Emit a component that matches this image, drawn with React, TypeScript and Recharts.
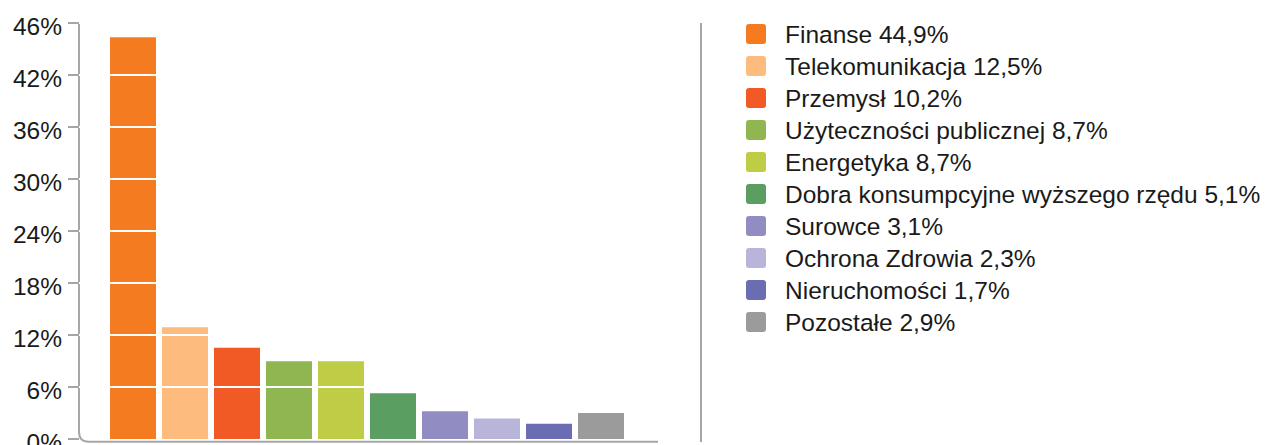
import React from 'react';
import * as Recharts from 'recharts';
import { BarChart, Bar, XAxis, YAxis, Cell, Legend, ReferenceLine } from 'recharts';

const categories = [
  'Finanse',
  'Telekomunikacja',
  'Przemysł',
  'Użyteczności publicznej',
  'Energetyka',
  'Dobra konsumpcyjne wyższego rzędu',
  'Surowce',
  'Ochrona Zdrowia',
  'Nieruchomości',
  'Pozostałe',
];
const shares = [44.9, 12.5, 10.2, 8.7, 8.7, 5.1, 3.1, 2.3, 1.7, 2.9];
const shareLabels = ['44,9%', '12,5%', '10,2%', '8,7%', '8,7%', '5,1%', '3,1%', '2,3%', '1,7%', '2,9%'];
const colors = [
  '#F47B20',
  '#FDBB7D',
  '#F15A24',
  '#8FB650',
  '#BFCC46',
  '#5A9F61',
  '#918DC3',
  '#B9B5DA',
  '#6A6DB1',
  '#9B9B9B',
];
const yMax = 46.5;
const yTickLabels = ['0%', '6%', '12%', '18%', '24%', '30%', '36%', '42%', '46%'];

const data = categories.map((name, i) => ({ name, value: shares[i] }));
const yTicks = yTickLabels.map((_, i) => (i * yMax) / (yTickLabels.length - 1));

const FONT = '"Liberation Sans", Arial, sans-serif';
const AXIS_GRAY = '#A6A6A6';

const usePlot: any = (Recharts as any).usePlotArea || (Recharts as any).useOffset || null;

function AxisFrame() {
  const area: any = usePlot ? usePlot() : null;
  const x0 = area && area.x != null ? area.x : area && area.left != null ? area.left : 79;
  const top = area && area.y != null ? area.y : area && area.top != null ? area.top : 23;
  const h = area && area.height != null ? area.height : 416;
  const w = area && area.width != null ? area.width : 579;
  const bottomY = top + h + 2.7;
  const r = 10;
  const d = `M ${x0} ${top} V ${bottomY - r} Q ${x0} ${bottomY} ${x0 + r} ${bottomY} H ${x0 + w}`;
  return <path d={d} stroke={AXIS_GRAY} strokeWidth={2} fill="none" />;
}

function LegendContent() {
  return (
    <div style={{ position: 'relative', width: 566, height: 445, fontFamily: FONT }}>
      <div
        style={{
          position: 'absolute',
          left: 0,
          top: 23,
          width: 2,
          height: 419,
          background: AXIS_GRAY,
        }}
      />
      <div style={{ position: 'absolute', left: 46, top: 18 }}>
        {categories.map((name, i) => (
          <div
            key={name}
            style={{ display: 'flex', alignItems: 'center', height: 32, whiteSpace: 'nowrap' }}
          >
            <div
              style={{
                width: 20,
                height: 20,
                borderRadius: 3,
                background: colors[i],
                marginRight: 19,
                flex: '0 0 auto',
              }}
            />
            <span style={{ fontSize: 24.5, color: '#1a1a1a', lineHeight: '32px', position: 'relative', top: 1 }}>
              {name} {shareLabels[i]}
            </span>
          </div>
        ))}
      </div>
    </div>
  );
}

export default function App() {
  return (
    <div style={{ position: 'absolute', left: 0, top: 0, width: 1266, height: 445, background: '#fff' }}>
      <BarChart
        width={1266}
        height={445}
        data={data}
        margin={{ top: 23, right: 42, bottom: 6, left: 0 }}
      >
        <XAxis dataKey="name" hide padding={{ left: 28, right: 31 }} />
        <YAxis
          type="number"
          domain={[0, yMax]}
          ticks={yTicks}
          width={79}
          axisLine={false}
          tickLine={{ stroke: AXIS_GRAY, strokeWidth: 2 }}
          tickSize={11}
          tickMargin={6}
          interval={0}
          tickFormatter={(v: number, i: number) => yTickLabels[i]}
          tick={{ fill: '#1a1a1a', fontSize: 24.5, fontFamily: FONT, dy: 3 }}
        />
        <Legend
          layout="vertical"
          align="right"
          verticalAlign="top"
          width={566}
          wrapperStyle={{ left: 700, top: 0, width: 566 }}
          content={() => <LegendContent />}
        />
        <Bar dataKey="value" barSize={46} isAnimationActive={false}>
          {data.map((d, i) => (
            <Cell key={d.name} fill={colors[i]} />
          ))}
        </Bar>
        {yTicks.slice(1).map((t) => (
          <ReferenceLine key={t} y={t} stroke="#ffffff" strokeWidth={2} />
        ))}
        <AxisFrame />
      </BarChart>
    </div>
  );
}
